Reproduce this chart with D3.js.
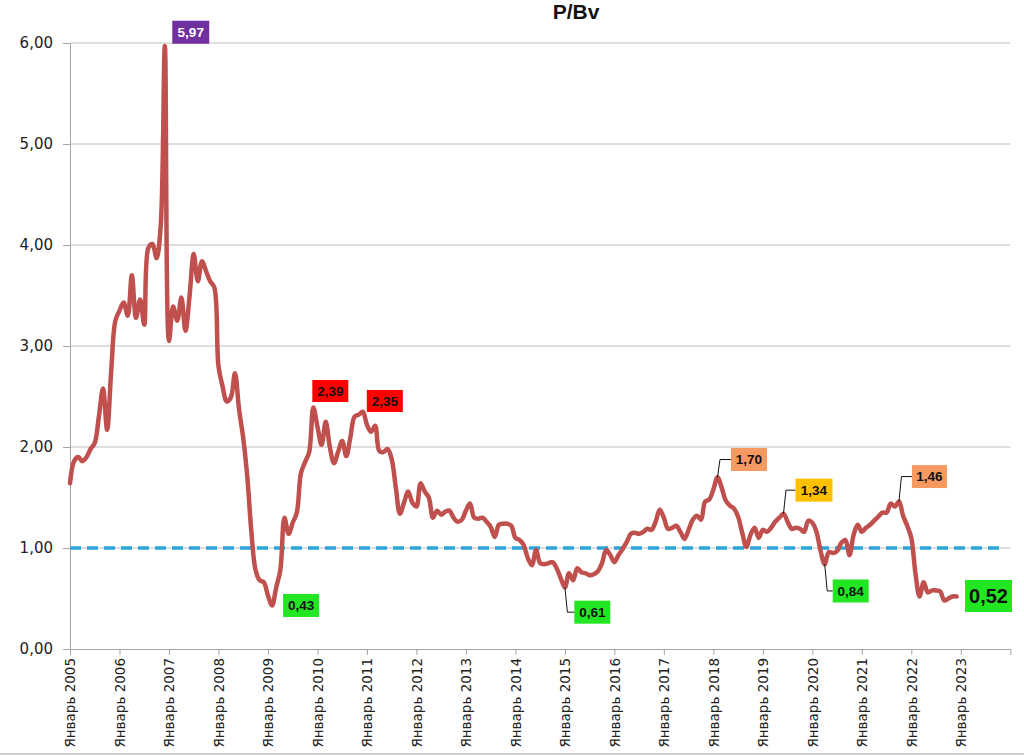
<!DOCTYPE html>
<html>
<head>
<meta charset="utf-8">
<script src="https://cdn.jsdelivr.net/npm/d3@7"></script>
<style>
  html, body { margin: 0; padding: 0; background: #fff; }
  svg { display: block; }
</style>
</head>
<body>
<svg id="chart" width="1024" height="755"></svg>
<script>
// ---------- DATA ----------
const chartTitle = "P/Bv";
// monthly P/Bv values, January 2005 (index 0) to December 2022
const pbvValues = [
  1.64, 1.86, 1.90, 1.86, 1.90, 1.98, 2.04, 2.30, 2.58, 2.17, 2.76, 3.25,
  3.35, 3.43, 3.30, 3.70, 3.28, 3.46, 3.21, 3.97, 4.01, 3.87, 4.19, 5.97,
  3.05, 3.39, 3.25, 3.48, 3.15, 3.50, 3.91, 3.64, 3.84, 3.74, 3.64, 3.58,
  2.80, 2.60, 2.45, 2.49, 2.73, 2.37, 2.09, 1.70, 1.15, 0.78, 0.68, 0.66,
  0.53, 0.43, 0.61, 0.78, 1.30, 1.14, 1.25, 1.35, 1.74, 1.85, 1.95, 2.39,
  2.20, 2.02, 2.25, 2.00, 1.84, 1.95, 2.06, 1.91, 2.10, 2.30, 2.32, 2.35,
  2.22, 2.15, 2.21, 1.96, 1.95, 1.98, 1.88, 1.60, 1.34, 1.45, 1.56, 1.45,
  1.41, 1.64, 1.56, 1.50, 1.30, 1.37, 1.33, 1.36, 1.37, 1.30, 1.26, 1.28,
  1.37, 1.44, 1.30, 1.29, 1.30, 1.26, 1.21, 1.11, 1.23, 1.24, 1.24, 1.22,
  1.10, 1.08, 1.03, 0.90, 0.83, 0.98, 0.85, 0.84, 0.85, 0.86, 0.80, 0.70,
  0.61, 0.75, 0.68, 0.80, 0.76, 0.75, 0.73, 0.74, 0.77, 0.85, 0.98, 0.93,
  0.86, 0.93, 0.99, 1.06, 1.14, 1.15, 1.14, 1.16, 1.19, 1.18, 1.26, 1.38,
  1.30, 1.19, 1.20, 1.22, 1.16, 1.09, 1.18, 1.28, 1.32, 1.28, 1.46, 1.48,
  1.58, 1.70, 1.60, 1.47, 1.42, 1.39, 1.31, 1.15, 1.01, 1.13, 1.20, 1.10,
  1.18, 1.16, 1.20, 1.26, 1.30, 1.34, 1.26, 1.19, 1.20, 1.19, 1.16, 1.27,
  1.25, 1.16, 0.97, 0.84, 0.96, 0.95, 0.97, 1.05, 1.08, 0.93, 1.13, 1.23,
  1.16, 1.20, 1.23, 1.27, 1.31, 1.35, 1.35, 1.44, 1.41, 1.46, 1.32, 1.22,
  1.10, 0.75, 0.52, 0.66, 0.56, 0.58, 0.58, 0.57, 0.48, 0.50, 0.52, 0.52
];
const yearLabels = ["Январь 2005","Январь 2006","Январь 2007","Январь 2008","Январь 2009",
  "Январь 2010","Январь 2011","Январь 2012","Январь 2013","Январь 2014","Январь 2015",
  "Январь 2016","Январь 2017","Январь 2018","Январь 2019","Январь 2020","Январь 2021",
  "Январь 2022","Январь 2023"];
const yTicks = [0, 1, 2, 3, 4, 5, 6];
const referenceLevel = 1.0;
// annotated months (index into pbvValues) and their label text
const annotationIndex = [23, 59, 71, 49, 120, 157, 173, 201, 183, 215];
const annotationText  = ["5,97","2,39","2,35","0,43","0,61","1,70","1,34","1,46","0,84","0,52"];

// ---------- LAYOUT / STYLE ----------
const W = 1024, H = 755;
const plot = { left: 70, right: 1010.3, top: 43, bottom: 649 };
const totalMonths = 228; // Jan 2005 .. Jan 2024
const annStyle = [
  { fill: "#7030A0", color: "#ffffff", dx: 7.4, dy: -25.3, w: 37, h: 23, fs: 13.5, leader: false },
  { fill: "#FF0000", color: "#111",    dx: -1,  dy: -27.6, w: 36, h: 22, fs: 13.5, leader: false },
  { fill: "#FF0000", color: "#111",    dx: 4,   dy: -21.7, w: 36, h: 22, fs: 13.5, leader: false },
  { fill: "#22E622", color: "#111",    dx: 11,  dy: -11.6, w: 36, h: 23, fs: 13.5, leader: false },
  { fill: "#22E622", color: "#111",    dx: 9.4, dy: 13.3,  w: 36, h: 23, fs: 13.5, leader: true },
  { fill: "#F79A62", color: "#111",    dx: 13.5,dy: -29.3, w: 36, h: 23, fs: 13.5, leader: true },
  { fill: "#FFC000", color: "#111",    dx: 12,  dy: -35,   w: 37, h: 23, fs: 13.5, leader: true },
  { fill: "#F79A62", color: "#111",    dx: 13,  dy: -36.5, w: 35, h: 23, fs: 13.5, leader: true },
  { fill: "#22E622", color: "#111",    dx: 8,   dy: 15.3,  w: 36, h: 23, fs: 13.5, leader: true },
  { fill: "#22E622", color: "#111",    dx: 8.3, dy: -16.5, w: 47, h: 32, fs: 20,   leader: false }
];

const svg = d3.select("#chart");

const x = d3.scaleLinear().domain([0, totalMonths]).range([plot.left, plot.right]);
const y = d3.scaleLinear().domain([0, 6]).range([plot.bottom, plot.top]);

// gridlines
svg.append("g")
  .selectAll("line")
  .data(yTicks.filter(d => d > 0))
  .join("line")
  .attr("x1", plot.left).attr("x2", plot.right)
  .attr("y1", d => y(d)).attr("y2", d => y(d))
  .attr("stroke", "#BEBEBE").attr("stroke-width", 1);

// y axis
const yAxis = d3.axisLeft(y)
  .tickValues(yTicks)
  .tickFormat(d => d.toFixed(2).replace(".", ","))
  .tickSize(7).tickPadding(10);
const gy = svg.append("g").attr("transform", `translate(${plot.left},0)`).call(yAxis);
gy.select(".domain").attr("stroke", "#A6A6A6");
gy.selectAll(".tick line").attr("stroke", "#A6A6A6");
gy.selectAll(".tick text")
  .attr("font-family", "DejaVu Sans, Verdana, sans-serif")
  .attr("font-size", 15).attr("fill", "#222");

// x axis
const xTickVals = yearLabels.map((d, i) => i * 12).concat([totalMonths]);
const xAxis = d3.axisBottom(x)
  .tickValues(xTickVals)
  .tickFormat((d, i) => yearLabels[i] || "")
  .tickSize(6).tickSizeOuter(0);
const gx = svg.append("g").attr("transform", `translate(0,${plot.bottom})`).call(xAxis);
gx.select(".domain").attr("stroke", "#A6A6A6");
gx.selectAll(".tick line").attr("stroke", "#A6A6A6");
gx.selectAll(".tick text")
  .attr("font-family", "DejaVu Sans, Verdana, sans-serif")
  .attr("font-size", 13.5).attr("fill", "#222")
  .attr("text-anchor", "end")
  .attr("transform", "translate(0,9) rotate(-90)")
  .attr("x", 0).attr("y", 0).attr("dy", "0.36em");

// reference dashed line at 1.00
svg.append("line")
  .attr("x1", plot.left).attr("x2", 1000)
  .attr("y1", y(referenceLevel)).attr("y2", y(referenceLevel))
  .attr("stroke", "#2CA6DA").attr("stroke-width", 3.5)
  .attr("stroke-dasharray", "11,6");

// main line
const line = d3.line()
  .x((d, i) => x(i))
  .y(d => y(d))
  .curve(d3.curveCatmullRom.alpha(0.5));
svg.append("path")
  .datum(pbvValues)
  .attr("d", line)
  .attr("fill", "none")
  .attr("stroke", "#C0504D")
  .attr("stroke-width", 4.5)
  .attr("stroke-linejoin", "round")
  .attr("stroke-linecap", "round");

// annotations
const ann = svg.append("g");
annotationIndex.forEach((idx, k) => {
  const s = annStyle[k];
  const px = x(idx), py = y(pbvValues[idx]);
  const bx = px + s.dx, by = py + s.dy;
  const cy = by + s.h / 2;
  if (s.leader) {
    ann.append("path")
      .attr("d", `M${px},${py} L${px + 2.5},${cy} L${bx},${cy}`)
      .attr("fill", "none").attr("stroke", "#111").attr("stroke-width", 1);
  }
  ann.append("rect")
    .attr("x", bx).attr("y", by).attr("width", s.w).attr("height", s.h)
    .attr("fill", s.fill);
  ann.append("text")
    .attr("x", bx + s.w / 2).attr("y", cy)
    .attr("dy", "0.36em")
    .attr("text-anchor", "middle")
    .attr("font-family", "Liberation Sans, Arial, sans-serif")
    .attr("font-weight", "bold")
    .attr("font-size", s.fs)
    .attr("fill", s.color)
    .text(annotationText[k]);
});

// title
svg.append("text")
  .attr("x", 576).attr("y", 18.5)
  .attr("text-anchor", "middle")
  .attr("font-family", "Liberation Sans, Arial, sans-serif")
  .attr("font-weight", "bold")
  .attr("font-size", 21)
  .attr("fill", "#111")
  .text(chartTitle);

// bottom border
svg.append("line")
  .attr("x1", 0).attr("x2", W).attr("y1", 754).attr("y2", 754)
  .attr("stroke", "#BFBFBF").attr("stroke-width", 1.5);
</script>
</body>
</html>
